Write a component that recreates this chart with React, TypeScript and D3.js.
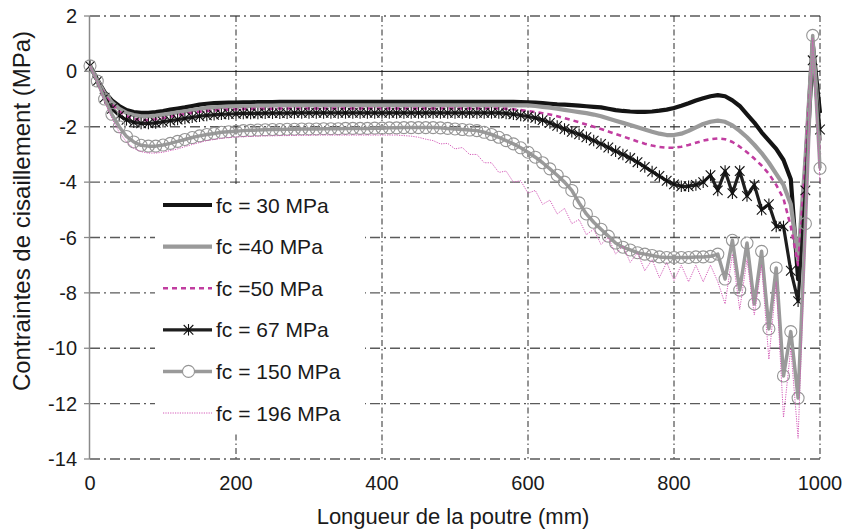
import React from "react";
import * as d3 from "d3";

// x grid (mm), one sample every 10 mm
const X_MM: number[] = d3.range(0, 1001, 10);

const S30 = [
  0.2, -0.3, -0.75, -1.05, -1.25, -1.4, -1.47, -1.5, -1.5, -1.47,
  -1.43, -1.38, -1.34, -1.3, -1.25, -1.2, -1.17, -1.15, -1.14, -1.13,
  -1.13, -1.12, -1.12, -1.11, -1.11, -1.11, -1.1, -1.1, -1.1, -1.1,
  -1.1, -1.1, -1.1, -1.1, -1.1, -1.1, -1.1, -1.1, -1.1, -1.1,
  -1.1, -1.1, -1.1, -1.1, -1.1, -1.1, -1.1, -1.1, -1.1, -1.1,
  -1.1, -1.1, -1.1, -1.1, -1.1, -1.1, -1.1, -1.1, -1.1, -1.11,
  -1.12, -1.13, -1.15, -1.17, -1.19, -1.2, -1.22, -1.24, -1.26, -1.28,
  -1.3, -1.35, -1.4, -1.43, -1.45, -1.46, -1.46, -1.45, -1.42, -1.38,
  -1.32, -1.24, -1.15, -1.05, -0.97, -0.9, -0.86, -0.9, -1.05, -1.25,
  -1.55, -1.85, -2.2, -2.5, -2.8, -3.2, -3.9, -7.5, -3.5, 1.0,
  -1.5,
];

const S40 = [
  0.2, -0.3, -0.8, -1.12, -1.35, -1.5, -1.58, -1.62, -1.62, -1.6,
  -1.56, -1.52, -1.48, -1.44, -1.4, -1.36, -1.32, -1.3, -1.28, -1.27,
  -1.26, -1.25, -1.25, -1.24, -1.24, -1.24, -1.23, -1.23, -1.23, -1.23,
  -1.23, -1.23, -1.23, -1.23, -1.23, -1.23, -1.23, -1.23, -1.23, -1.23,
  -1.23, -1.23, -1.23, -1.23, -1.23, -1.23, -1.23, -1.23, -1.23, -1.23,
  -1.23, -1.23, -1.23, -1.23, -1.23, -1.23, -1.23, -1.23, -1.23, -1.23,
  -1.23, -1.25, -1.28, -1.31, -1.35, -1.39, -1.43, -1.47, -1.51, -1.56,
  -1.62, -1.7, -1.78, -1.86, -1.94, -2.02, -2.1, -2.18, -2.25, -2.3,
  -2.3, -2.25, -2.15, -2.02, -1.9, -1.82, -1.78, -1.82, -1.95, -2.15,
  -2.38, -2.65, -2.95, -3.3, -3.7, -4.1, -4.8, -6.8, -3.2, 1.1,
  -2.5,
];

const S50 = [
  0.2, -0.32, -0.85, -1.2, -1.45, -1.62, -1.72, -1.76, -1.76, -1.73,
  -1.69, -1.64, -1.59, -1.54, -1.5, -1.46, -1.43, -1.41, -1.39, -1.38,
  -1.37, -1.36, -1.36, -1.35, -1.35, -1.35, -1.34, -1.34, -1.34, -1.34,
  -1.34, -1.34, -1.34, -1.34, -1.34, -1.34, -1.34, -1.34, -1.34, -1.34,
  -1.34, -1.34, -1.34, -1.34, -1.34, -1.34, -1.34, -1.34, -1.34, -1.34,
  -1.34, -1.34, -1.34, -1.34, -1.34, -1.34, -1.34, -1.35, -1.37, -1.4,
  -1.43, -1.47, -1.51, -1.56, -1.62, -1.69, -1.76, -1.84, -1.92, -2.0,
  -2.08, -2.17, -2.26, -2.35, -2.44, -2.53, -2.61, -2.68, -2.73, -2.76,
  -2.76, -2.72, -2.66, -2.58, -2.5, -2.45, -2.42, -2.45, -2.55, -2.72,
  -2.92, -3.15, -3.4, -3.7, -4.1, -4.6, -5.6, -7.0, -3.3, 1.1,
  -3.0,
];

const S67 = [
  0.2, -0.35, -0.95, -1.35, -1.6, -1.75, -1.84, -1.88, -1.88, -1.86,
  -1.82, -1.78, -1.74, -1.7, -1.66, -1.62, -1.59, -1.57, -1.55, -1.54,
  -1.53, -1.52, -1.52, -1.52, -1.51, -1.51, -1.51, -1.51, -1.5, -1.5,
  -1.5, -1.5, -1.5, -1.5, -1.5, -1.5, -1.5, -1.5, -1.5, -1.5,
  -1.5, -1.5, -1.5, -1.5, -1.5, -1.5, -1.5, -1.5, -1.5, -1.5,
  -1.5, -1.5, -1.5, -1.5, -1.5, -1.5, -1.5, -1.52, -1.55, -1.59,
  -1.63, -1.68, -1.76, -1.86, -1.97, -2.08, -2.18, -2.27, -2.38, -2.5,
  -2.62, -2.75, -2.88, -3.0, -3.13, -3.28, -3.45, -3.62, -3.78, -3.95,
  -4.08, -4.15, -4.15, -4.1, -4.0, -3.75, -4.3, -3.6, -4.4, -3.6,
  -4.5, -4.1, -5.0, -4.8, -5.6, -5.6, -7.2, -8.3, -4.3, 0.4,
  -2.1,
];

const S150 = [
  0.2, -0.35, -1.0, -1.55, -2.0, -2.35, -2.55, -2.67, -2.7, -2.7,
  -2.66, -2.6, -2.53, -2.46, -2.39, -2.33, -2.28, -2.24, -2.2, -2.18,
  -2.16, -2.14, -2.13, -2.12, -2.11, -2.1, -2.1, -2.09, -2.09, -2.08,
  -2.08, -2.08, -2.07, -2.07, -2.07, -2.06, -2.06, -2.06, -2.06, -2.05,
  -2.05, -2.04, -2.04, -2.03, -2.03, -2.03, -2.03, -2.03, -2.04, -2.06,
  -2.08, -2.1, -2.12, -2.14, -2.2, -2.28, -2.38, -2.5, -2.62, -2.76,
  -2.92, -3.1, -3.3, -3.52, -3.75, -4.0, -4.3, -4.75, -5.15, -5.45,
  -5.7, -5.95, -6.2, -6.35, -6.45, -6.55, -6.6, -6.65, -6.7, -6.72,
  -6.72, -6.72, -6.72, -6.7, -6.7, -6.68, -6.6, -7.5, -6.1, -7.9,
  -6.2, -8.4, -6.5, -9.3, -7.1, -11.0, -9.4, -11.8, -5.5, 1.3,
  -3.5,
];

const S196 = [
  0.2, -0.4, -1.1, -1.7, -2.2, -2.55, -2.78, -2.9, -2.95, -2.95,
  -2.92, -2.86, -2.8, -2.72, -2.64, -2.57, -2.5, -2.46, -2.42, -2.39,
  -2.37, -2.36, -2.35, -2.34, -2.33, -2.33, -2.32, -2.32, -2.31, -2.31,
  -2.31, -2.3, -2.3, -2.3, -2.3, -2.3, -2.3, -2.3, -2.3, -2.3,
  -2.3, -2.3, -2.3, -2.32, -2.34, -2.38, -2.45, -2.5, -2.62, -2.6,
  -2.8, -2.75, -3.0, -3.0, -3.3, -3.3, -3.65, -3.6, -4.0, -3.95,
  -4.4, -4.3, -4.8, -4.65, -5.15, -4.95, -5.5, -5.35, -5.9, -5.7,
  -6.25, -6.0, -6.6, -6.3, -6.9, -6.55, -7.2, -6.8, -7.45, -6.9,
  -7.55, -7.0, -7.6, -7.0, -7.6, -7.0, -7.6, -8.4, -6.6, -8.6,
  -6.8, -8.8, -7.0, -10.4, -7.6, -12.5, -10.0, -13.25, -6.0, 1.2,
  -4.0,
];

const Y_TICKS = [2, 0, -2, -4, -6, -8, -10, -12, -14];
const X_TICKS = [0, 200, 400, 600, 800, 1000];
const LEGEND_LABELS = [
  "fc = 30 MPa",
  "fc =40 MPa",
  "fc =50 MPa",
  "fc = 67 MPa",
  "fc = 150 MPa",
  "fc = 196 MPa",
];
const X_LABEL = "Longueur de la poutre (mm)";
const Y_LABEL = "Contraintes de cisaillement (MPa)";

type Style = {
  color: string;
  width: number;
  dash?: string;
  marker?: "star" | "circle";
};

const STYLES: Style[] = [
  { color: "#141414", width: 4.2 },
  { color: "#9a9a9a", width: 4.2 },
  { color: "#c13da0", width: 2.6, dash: "5,4" },
  { color: "#1e1e1e", width: 3.2, marker: "star" },
  { color: "#9a9a9a", width: 3.5, marker: "circle" },
  { color: "#d45ab8", width: 1, dash: "1.2,1.2" },
];

const SERIES = [S30, S40, S50, S67, S150, S196];

const W = 846;
const H = 532;
const FONT = "'Liberation Sans', Arial, Helvetica, sans-serif";

function Star({ cx, cy, s, color }: { cx: number; cy: number; s: number; color: string }) {
  return (
    <g stroke={color} strokeWidth={1.1} fill="none">
      <line x1={cx - s} y1={cy - s} x2={cx + s} y2={cy + s} />
      <line x1={cx - s} y1={cy + s} x2={cx + s} y2={cy - s} />
      <line x1={cx} y1={cy - s * 1.2} x2={cx} y2={cy + s * 1.2} />
    </g>
  );
}

export default function App() {
  const x = d3.scaleLinear().domain([0, 1000]).range([90, 820]);
  const y = d3.scaleLinear().domain([2, -14]).range([16, 459]);

  const line = d3
    .line<[number, number]>()
    .x((d) => x(d[0]))
    .y((d) => y(d[1]))
    .curve(d3.curveLinear);

  const hGrid = "10,4,2,4";
  const vGrid = "6,3,1.5,3";

  const legendX0 = 163;
  const legendX1 = 212;
  const legendY0 = 205;
  const legendDy = 41.6;

  return (
    <svg
      width={W}
      height={H}
      style={{ position: "absolute", left: 0, top: 0, background: "#fff" }}
      fontFamily={FONT}
    >
      <rect x={0} y={0} width={W} height={H} fill="#fff" />
      {/* horizontal grid */}
      {Y_TICKS.filter((t) => t !== 0).map((t) => (
        <line
          key={"h" + t}
          x1={x(0)}
          x2={x(1000)}
          y1={y(t)}
          y2={y(t)}
          stroke="#5a5a5a"
          strokeWidth={1.3}
          strokeDasharray={hGrid}
        />
      ))}
      {/* vertical grid */}
      {X_TICKS.filter((t) => t !== 0).map((t) => (
        <line
          key={"v" + t}
          x1={x(t)}
          x2={x(t)}
          y1={y(2)}
          y2={y(-14)}
          stroke="#2a2a2a"
          strokeWidth={1}
          strokeDasharray={vGrid}
        />
      ))}
      {/* zero line */}
      <line x1={x(0)} x2={x(1000)} y1={y(0)} y2={y(0)} stroke="#111" strokeWidth={1} />
      {/* left axis */}
      <line x1={x(0) - 0.5} x2={x(0) - 0.5} y1={y(2)} y2={y(-14)} stroke="#8a8a8a" strokeWidth={1.5} />
      {Y_TICKS.map((t) => (
        <line key={"yt" + t} x1={x(0) - 6} x2={x(0)} y1={y(t)} y2={y(t)} stroke="#8a8a8a" strokeWidth={1.3} />
      ))}

      {/* series */}
      {SERIES.map((vals, si) => {
        const st = STYLES[si];
        const pts: [number, number][] = X_MM.map((xm, i) => [xm, vals[i]]);
        return (
          <g key={"s" + si}>
            <path
              d={line(pts) || ""}
              fill="none"
              stroke={st.color}
              strokeWidth={st.width}
              strokeDasharray={st.dash}
              strokeLinejoin="round"
            />
            {st.marker === "star" &&
              pts.map((p, i) => <Star key={i} cx={x(p[0])} cy={y(p[1])} s={4.8} color="#111" />)}
            {st.marker === "circle" &&
              pts.map((p, i) => (
                <circle
                  key={i}
                  cx={x(p[0])}
                  cy={y(p[1])}
                  r={6}
                  fill="none"
                  stroke="#959595"
                  strokeWidth={1.1}
                />
              ))}
          </g>
        );
      })}

      {/* legend */}
      <rect x={155} y={186} width={210} height={246} fill="#fff" />
      {LEGEND_LABELS.map((lab, i) => {
        const st = STYLES[i];
        const cy = legendY0 + i * legendDy;
        const cx = (legendX0 + legendX1) / 2 + 1;
        return (
          <g key={"lg" + i}>
            <line
              x1={legendX0}
              x2={legendX1}
              y1={cy}
              y2={cy}
              stroke={st.color}
              strokeWidth={st.width}
              strokeDasharray={st.dash}
            />
            {st.marker === "star" && <Star cx={cx} cy={cy} s={4.8} color="#111" />}
            {st.marker === "circle" && (
              <circle cx={cx} cy={cy} r={6} fill="#fff" stroke="#959595" strokeWidth={1.1} />
            )}
            <text x={216} y={cy + 7.5} fontSize={21} fill="#1a1a1a">
              {lab}
            </text>
          </g>
        );
      })}

      {/* y tick labels */}
      {Y_TICKS.map((t) => (
        <text
          key={"yl" + t}
          x={77}
          y={y(t) + 7}
          fontSize={20}
          textAnchor="end"
          fill="#1a1a1a"
        >
          {t}
        </text>
      ))}
      {/* x tick labels */}
      {X_TICKS.map((t) => (
        <text key={"xl" + t} x={x(t)} y={490} fontSize={20} textAnchor="middle" fill="#1a1a1a">
          {t}
        </text>
      ))}
      <text x={453} y={524} fontSize={22} textAnchor="middle" fill="#1a1a1a">
        {X_LABEL}
      </text>
      <text
        transform={`translate(30,211) rotate(-90)`}
        fontSize={24}
        textAnchor="middle"
        fill="#1a1a1a"
      >
        {Y_LABEL}
      </text>
    </svg>
  );
}
